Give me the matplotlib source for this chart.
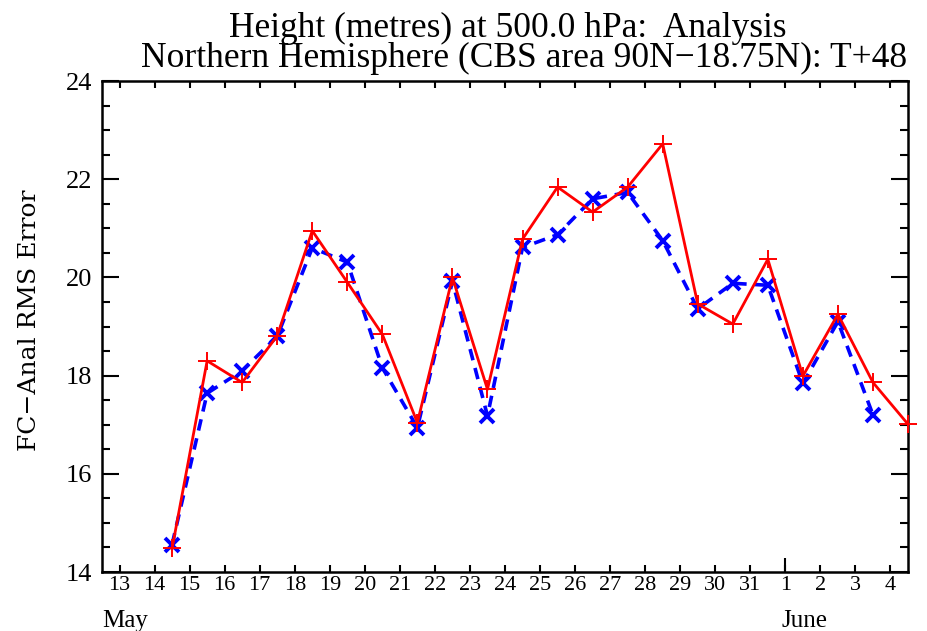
import matplotlib
matplotlib.use("Agg")
import matplotlib.pyplot as plt
from matplotlib.ticker import MultipleLocator, FixedLocator
import matplotlib.transforms as mtransforms

plt.rcParams['font.family'] = ['Liberation Serif', 'DejaVu Serif']

# Day positions (days counted from 0 May; 32 = 1 June), values at mid-day
red_days = [14.5, 15.5, 16.5, 17.5, 18.5, 19.5, 20.5, 21.5, 22.5, 23.5, 24.5,
            25.5, 26.5, 27.5, 28.5, 29.5, 30.5, 31.5, 32.5, 33.5, 34.5, 35.5]
red_vals = [14.48, 18.30, 17.86, 18.81, 20.95, 19.90, 18.84, 17.04, 20.00, 17.72, 20.78,
            21.84, 21.33, 21.84, 22.72, 19.46, 19.05, 20.37, 17.99, 19.25, 17.86, 17.01]

blue_days = [14.5, 15.5, 16.5, 17.5, 18.5, 19.5, 20.5, 21.5, 22.5, 23.5, 24.5,
             25.5, 26.5, 27.5, 28.5, 29.5, 30.5, 31.5, 32.5, 33.5, 34.5]
blue_vals = [14.56, 17.64, 18.10, 18.80, 20.60, 20.31, 18.16, 16.94, 19.92, 17.18, 20.61,
             20.87, 21.60, 21.73, 20.75, 19.36, 19.88, 19.84, 17.84, 19.10, 17.20]

tick_days = [13, 14, 15, 16, 17, 18, 19, 20, 21, 22, 23, 24,
             25, 26, 27, 28, 29, 30, 31, 32, 33, 34, 35]
tick_labels = ['13', '14', '15', '16', '17', '18', '19', '20', '21', '22', '23', '24',
               '25', '26', '27', '28', '29', '30', '31', '1', '2', '3', '4']
month_days = [12.5, 31.9]
month_labels = ["May", "June"]

title_lines = ["Height (metres) at 500.0 hPa:  Analysis",
               "Northern Hemisphere (CBS area 90N\u221218.75N): T+48"]
ylabel = "FC\u2212Anal RMS Error"

W, H = 928, 631
fig = plt.figure(figsize=(W / 100, H / 100), dpi=100)
ax = fig.add_axes([102 / W, 1 - 572 / H, 806 / W, 491 / H])

ax.plot(blue_days, blue_vals, color='#0000ff', linestyle=(0, (3.2, 2.2)), linewidth=2.6,
        marker='x', markersize=10, markeredgewidth=2.8, clip_on=False, zorder=2)
ax.plot(red_days, red_vals, color='#ff0000', linestyle='-', linewidth=2.0,
        marker='+', markersize=13, markeredgewidth=1.4, clip_on=False, zorder=3)

ax.set_xlim(12.5, 35.5)
ax.set_ylim(14, 24)

ax.xaxis.set_major_locator(FixedLocator(tick_days))
ax.set_xticklabels(tick_labels, fontsize=16)
ax.xaxis.set_minor_locator(FixedLocator([32]))
ax.xaxis.remove_overlapping_locs = False
ax.yaxis.set_major_locator(MultipleLocator(2))
ax.yaxis.set_minor_locator(MultipleLocator(0.5))
ax.tick_params(axis='y', which='major', direction='in', length=12, width=1.5,
               labelsize=19, right=True, pad=7)
ax.tick_params(axis='y', which='minor', direction='in', length=6, width=1.5, right=True)
ax.tick_params(axis='x', which='major', direction='in', length=5, width=1.5,
               top=True, pad=3)
ax.tick_params(axis='x', which='minor', direction='in', length=10, width=1.5,
               top=False, bottom=True)
for s in ax.spines.values():
    s.set_linewidth(1.8)

fig.text(30 / W, 1 - 320 / H, ylabel, rotation=90, fontsize=18, ha='center', va='center',
         family=['DejaVu Serif'])
fig.text(508 / W, 1 - 37 / H, title_lines[0], fontsize=25.5, ha='center', va='baseline')
fig.text(524 / W, 1 - 67 / H, title_lines[1], fontsize=25.5, ha='center', va='baseline')

trans = mtransforms.blended_transform_factory(ax.transData, fig.transFigure)
for d, lab in zip(month_days, month_labels):
    ax.text(d, 1 - 627 / H, lab, transform=trans, fontsize=18, ha='left', va='baseline')

fig.savefig("out.png", dpi=100)
